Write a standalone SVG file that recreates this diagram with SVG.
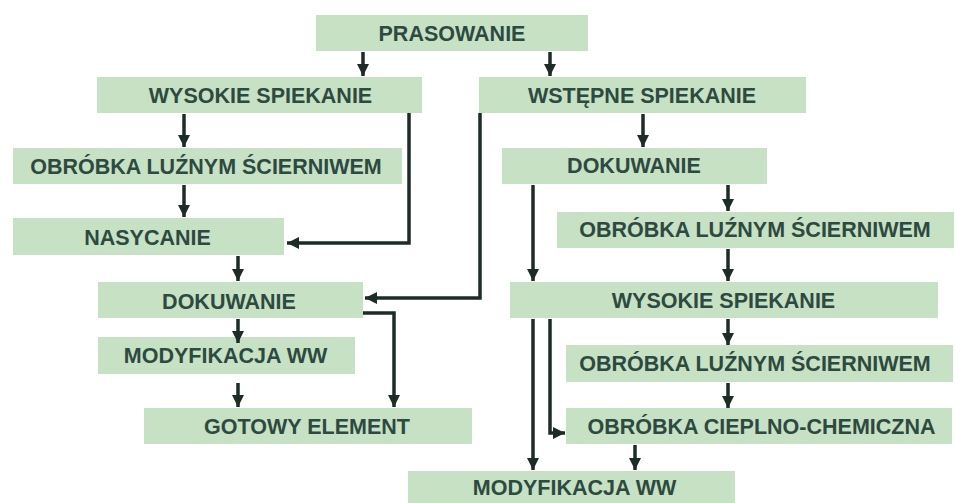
<svg xmlns="http://www.w3.org/2000/svg" width="955" height="503" viewBox="0 0 955 503">
<defs>
<style>
.box{fill:#c6e1c4}
.t{font-family:"Liberation Sans",Arial,sans-serif;font-weight:bold;font-size:21.5px;fill:#2e4a40;text-anchor:middle}
.c{fill:none;stroke:#1e2c27;stroke-width:3.5;marker-end:url(#ah)}
</style>
<marker id="ah" markerUnits="userSpaceOnUse" markerWidth="12" markerHeight="12" viewBox="0 0 12 12" refX="12" refY="6" orient="auto">
<path d="M0,0 L12,6 L0,12 Z" fill="#1e2c27"/>
</marker>
</defs>
<rect width="955" height="503" fill="#ffffff"/>
<g id="n-prasowanie"><rect class="box" x="316" y="15" width="272" height="36"/><text class="t" x="452" y="41">PRASOWANIE</text></g>
<g id="n-wysokie-l"><rect class="box" x="97" y="77" width="325" height="36"/><text class="t" x="260.5" y="103">WYSOKIE SPIEKANIE</text></g>
<g id="n-wstepne"><rect class="box" x="479" y="77" width="327" height="36"/><text class="t" x="642" y="103">WSTĘPNE SPIEKANIE</text></g>
<g id="n-obrobka-l"><rect class="box" x="13" y="148" width="389" height="36"/><text class="t" x="206" y="174">OBRÓBKA LUŹNYM ŚCIERNIWEM</text></g>
<g id="n-nasycanie"><rect class="box" x="13" y="218" width="271" height="37"/><text class="t" x="147.5" y="245">NASYCANIE</text></g>
<g id="n-dokuwanie-r"><rect class="box" x="502" y="148" width="265" height="36"/><text class="t" x="634" y="173">DOKUWANIE</text></g>
<g id="n-obrobka-r1"><rect class="box" x="557" y="212" width="397" height="36"/><text class="t" x="755" y="237">OBRÓBKA LUŹNYM ŚCIERNIWEM</text></g>
<g id="n-dokuwanie-l"><rect class="box" x="98" y="282" width="265" height="36"/><text class="t" x="229" y="309">DOKUWANIE</text></g>
<g id="n-wysokie-r"><rect class="box" x="510" y="282" width="428" height="36"/><text class="t" x="723.5" y="308">WYSOKIE SPIEKANIE</text></g>
<g id="n-modyfikacja-l"><rect class="box" x="98" y="337" width="257" height="37"/><text class="t" x="225.5" y="363">MODYFIKACJA WW</text></g>
<g id="n-obrobka-r2"><rect class="box" x="566" y="345" width="387" height="37"/><text class="t" x="755" y="371">OBRÓBKA LUŹNYM ŚCIERNIWEM</text></g>
<g id="n-gotowy"><rect class="box" x="144" y="408" width="328" height="36"/><text class="t" x="307" y="434">GOTOWY ELEMENT</text></g>
<g id="n-cieplno"><rect class="box" x="566" y="408" width="386" height="36"/><text class="t" x="761.5" y="434">OBRÓBKA CIEPLNO-CHEMICZNA</text></g>
<g id="n-modyfikacja-r"><rect class="box" x="408" y="471" width="327" height="36"/><text class="t" x="574.5" y="495">MODYFIKACJA WW</text></g>
<g id="connectors">
<path class="c" d="M363 52 V76"/>
<path class="c" d="M550 52 V76"/>
<path class="c" d="M184 114 V147"/>
<path class="c" d="M409 113 V243 H287"/>
<path class="c" d="M184 185 V217"/>
<path class="c" d="M238 256 V281"/>
<path class="c" d="M480 113 V298 H365"/>
<path class="c" d="M643 114 V147"/>
<path class="c" d="M728 185 V211"/>
<path class="c" d="M533 185 V281"/>
<path class="c" d="M728 249 V281"/>
<path class="c" d="M238 319 V343"/>
<path class="c" d="M363 313 H394 V407"/>
<path class="c" d="M238 383 V407"/>
<path class="c" d="M728 319 V345"/>
<path class="c" d="M728 383 V408"/>
<path class="c" d="M550 319 V433 H565"/>
<path class="c" d="M533 319 V470"/>
<path class="c" d="M635 445 V470"/>
</g>
</svg>
